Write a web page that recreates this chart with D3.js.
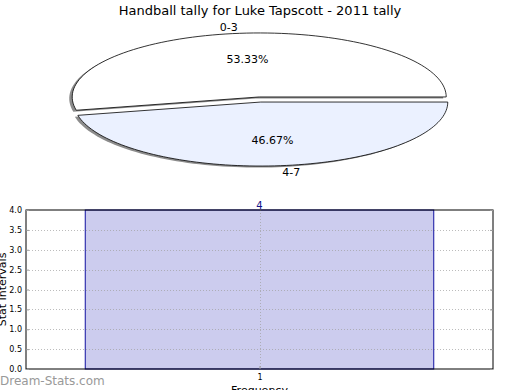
<!DOCTYPE html>
<html>
<head>
<meta charset="utf-8">
<script src="https://cdn.jsdelivr.net/npm/d3@7"></script>
<style>
  body { margin: 0; background: #fff; }
  svg { display: block; font-family: 'DejaVu Sans', sans-serif; }
</style>
</head>
<body>
<div id="chart"></div>
<script>
var title = 'Handball tally for Luke Tapscott - 2011 tally'

// pie data
var pieLabels = ['0-3', '4-7']
var pieValues = [53.33, 46.67]
var pieColors = ['#ffffff', '#ebf1ff']

// bar data
var barCats = [1]
var barValues = [4]
var yTicks = [0, 0.5, 1, 1.5, 2, 2.5, 3, 3.5, 4]

var width = 520
var height = 390

var svg = d3
  .select('#chart')
  .append('svg')
  .attr('width', width)
  .attr('height', height)

svg
  .append('text')
  .attr('x', 260)
  .attr('y', 15)
  .attr('text-anchor', 'middle')
  .attr('font-size', 13)
  .text(title)

// ---- pie (squashed into an ellipse) ----
var cx = 260
var cy = 99.5
var rx = 187
var ry = 64
var explode = 0.04

// angles measured from 3 o'clock, counter-clockwise
var arcs = d3.pie().sort(null).startAngle(0).endAngle(2 * Math.PI)(pieValues)

function slicePath(a0, a1) {
  var pts = [[0, 0]]
  var n = 90
  for (var i = 0; i <= n; i++) {
    var t = a0 + (a1 - a0) * i / n
    pts.push([Math.cos(t), -Math.sin(t)])
  }
  return pts
}

var pieG = svg.append('g')
var shadowG = pieG.append('g')
var sliceG = pieG.append('g')

arcs.forEach(function(a, i) {
  var t0 = a.startAngle
  var t1 = a.endAngle
  var mid = (t0 + t1) / 2
  var ox = explode * rx * Math.cos(mid)
  var oy = -explode * ry * Math.sin(mid)
  var x = d3.scaleLinear().domain([-1, 1]).range([cx - rx + ox, cx + rx + ox])
  var y = d3.scaleLinear().domain([-1, 1]).range([cy - ry + oy, cy + ry + oy])
  var line = d3
    .line()
    .x(d => x(d[0]))
    .y(d => y(d[1]))
    .curve(d3.curveLinearClosed)
  var pts = slicePath(t0, t1)

  shadowG
    .append('path')
    .attr('d', line(pts))
    .attr('transform', 'translate(-3,1.5)')
    .attr('fill', '#000')
    .attr('opacity', 0.45)
  sliceG
    .append('path')
    .attr('d', line(pts))
    .attr('fill', pieColors[i])
    .attr('stroke', '#000')
    .attr('stroke-width', 0.8)

  sliceG
    .append('text')
    .attr('x', x(1.1 * Math.cos(mid)))
    .attr('y', y(-1.1 * Math.sin(mid)))
    .attr('dy', '0.35em')
    .attr('text-anchor', Math.cos(mid) > 0 ? 'start' : 'end')
    .attr('font-size', 11)
    .text(pieLabels[i])

  sliceG
    .append('text')
    .attr('x', x(0.6 * Math.cos(mid)))
    .attr('y', y(-0.6 * Math.sin(mid)))
    .attr('dy', '0.35em')
    .attr('text-anchor', 'middle')
    .attr('font-size', 11)
    .text(d3.format('.2f')(pieValues[i]) + '%')
})

// ---- bar chart ----
var margin = { top: 210, left: 26, right: 27, bottom: 21 }
var pw = width - margin.left - margin.right
var ph = height - margin.top - margin.bottom

var g = svg
  .append('g')
  .attr('transform', 'translate(' + margin.left + ',' + margin.top + ')')

var xScale = d3.scaleLinear().domain([0.33, 1.67]).range([0, pw])
var yScale = d3.scaleLinear().domain([0, 4]).range([ph, 0])
var barW = 1.0

g.selectAll('.bar')
  .data(barValues)
  .enter()
  .append('rect')
  .attr('x', (d, i) => xScale(barCats[i] - barW / 2))
  .attr('width', (d, i) => xScale(barCats[i] + barW / 2) - xScale(barCats[i] - barW / 2))
  .attr('y', d => yScale(d))
  .attr('height', d => ph - yScale(d))
  .attr('fill', '#ccccee')
  .attr('stroke', '#1010a0')
  .attr('stroke-width', 1)

// dotted grid
g.selectAll('.hgrid')
  .data(yTicks.slice(1, -1))
  .enter()
  .append('line')
  .attr('x1', 0)
  .attr('x2', pw)
  .attr('y1', d => Math.round(yScale(d)) + 0.5)
  .attr('y2', d => Math.round(yScale(d)) + 0.5)
  .attr('stroke', '#a0a0a0')
  .attr('stroke-opacity', 0.7)
  .attr('stroke-width', 1)
  .attr('stroke-dasharray', '1,2')

g.selectAll('.vgrid')
  .data(barCats)
  .enter()
  .append('line')
  .attr('x1', d => Math.round(xScale(d)) + 0.5)
  .attr('x2', d => Math.round(xScale(d)) + 0.5)
  .attr('y1', 0)
  .attr('y2', ph)
  .attr('stroke', '#a0a0a0')
  .attr('stroke-opacity', 0.7)
  .attr('stroke-width', 1)
  .attr('stroke-dasharray', '1,2')

// frame
g.append('rect')
  .attr('x', 0)
  .attr('y', 0)
  .attr('width', pw)
  .attr('height', ph)
  .attr('fill', 'none')
  .attr('stroke', '#000')
  .attr('stroke-width', 1)

// axes
var yAxis = d3
  .axisLeft(yScale)
  .tickValues(yTicks)
  .tickFormat(d3.format('.1f'))
  .tickSize(-3)
  .tickPadding(4)
var yAxisG = g.append('g').call(yAxis)
yAxisG.select('.domain').remove()
yAxisG.selectAll('line').attr('stroke', '#999')
yAxisG.selectAll('text').attr('font-size', 8).attr('font-family', 'DejaVu Sans')

var yAxisR = d3.axisRight(yScale).tickValues(yTicks).tickSize(-3).tickFormat('')
var yAxisRG = g.append('g').attr('transform', 'translate(' + pw + ',0)').call(yAxisR)
yAxisRG.select('.domain').remove()
yAxisRG.selectAll('line').attr('stroke', '#999')

var xAxis = d3
  .axisBottom(xScale)
  .tickValues(barCats)
  .tickFormat(d3.format('d'))
  .tickSize(-3)
  .tickPadding(5)
var xAxisG = g.append('g').attr('transform', 'translate(0,' + ph + ')').call(xAxis)
xAxisG.select('.domain').remove()
xAxisG.selectAll('line').attr('stroke', '#999')
xAxisG.selectAll('text').attr('font-size', 8).attr('font-family', 'DejaVu Sans')

// bar value labels
g.selectAll('.val')
  .data(barValues)
  .enter()
  .append('text')
  .attr('x', (d, i) => xScale(barCats[i]))
  .attr('y', d => yScale(d) - 1.5)
  .attr('text-anchor', 'middle')
  .attr('font-size', 10)
  .attr('fill', '#10108a')
  .text(d => d)

// axis titles
svg
  .append('text')
  .attr('transform', 'translate(6,' + (margin.top + ph / 2) + ') rotate(-90)')
  .attr('text-anchor', 'middle')
  .attr('font-size', 11)
  .text('Stat Intervals')

svg
  .append('text')
  .attr('x', margin.left + pw / 2)
  .attr('y', 394)
  .attr('text-anchor', 'middle')
  .attr('font-size', 11)
  .text('Frequency')

// watermark
svg
  .append('text')
  .attr('x', 0)
  .attr('y', 385)
  .attr('font-size', 12)
  .attr('fill', '#999')
  .text('Dream-Stats.com')
</script>
</body>
</html>
